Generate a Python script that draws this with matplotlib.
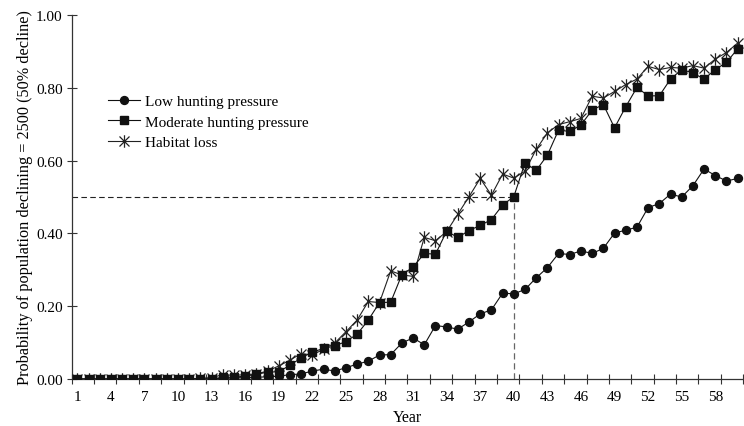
import numpy as np
import matplotlib
matplotlib.use("Agg")
import matplotlib.pyplot as plt
from matplotlib.path import Path

plt.rcParams['font.family'] = ['Liberation Serif', 'DejaVu Serif']

years = list(range(1, 61))

low = [0.0, 0.0, 0.0, 0.0, 0.0, 0.0, 0.0, 0.0, 0.0, 0.0,
       0.0, 0.0, 0.0, 0.002, 0.003, 0.004, 0.005, 0.006, 0.008, 0.012,
       0.014, 0.022, 0.027, 0.022, 0.031, 0.041, 0.049, 0.066, 0.067, 0.099,
       0.113, 0.094, 0.147, 0.143, 0.137, 0.157, 0.179, 0.19, 0.236, 0.234,
       0.246, 0.278, 0.306, 0.345, 0.342, 0.352, 0.345, 0.359, 0.401, 0.409,
       0.417, 0.471, 0.482, 0.508, 0.5, 0.531, 0.577, 0.559, 0.544, 0.551]

moderate = [0.0, 0.0, 0.0, 0.0, 0.0, 0.0, 0.0, 0.0, 0.0, 0.0,
            0.0, 0.0, 0.0, 0.005, 0.005, 0.008, 0.013, 0.019, 0.02, 0.038,
            0.058, 0.074, 0.084, 0.091, 0.103, 0.123, 0.162, 0.21, 0.211, 0.287,
            0.307, 0.345, 0.343, 0.406, 0.389, 0.408, 0.422, 0.438, 0.478, 0.501,
            0.594, 0.573, 0.615, 0.684, 0.68, 0.698, 0.739, 0.754, 0.69, 0.748,
            0.801, 0.778, 0.778, 0.824, 0.85, 0.841, 0.824, 0.85, 0.87, 0.907]

habitat = [0.0, 0.0, 0.0, 0.0, 0.0, 0.0, 0.0, 0.0, 0.0, 0.0,
           0.0, 0.002, 0.004, 0.012, 0.01, 0.012, 0.014, 0.022, 0.036, 0.052,
           0.07, 0.066, 0.082, 0.099, 0.13, 0.162, 0.213, 0.21, 0.297, 0.286,
           0.282, 0.389, 0.38, 0.405, 0.453, 0.501, 0.551, 0.505, 0.563, 0.552,
           0.571, 0.631, 0.676, 0.699, 0.707, 0.716, 0.777, 0.772, 0.79, 0.809,
           0.824, 0.859, 0.85, 0.856, 0.854, 0.861, 0.854, 0.879, 0.897, 0.923]

threshold = 0.5
cross_year = 40

# asterisk: vertical bar plus an X
star = Path([(0, -1), (0, 1), (-0.8, -0.8), (0.8, 0.8), (-0.8, 0.8), (0.8, -0.8)],
            [Path.MOVETO, Path.LINETO, Path.MOVETO, Path.LINETO, Path.MOVETO, Path.LINETO])

fig = plt.figure(figsize=(7.44, 4.27), dpi=100)
ax = fig.add_axes([0.0964, 0.110, 0.9026, 0.8525])

ax.plot(years, habitat, color='#222222', lw=0.8, marker=star, ms=9,
        mew=0.9, label='Habitat loss', zorder=3)
ax.plot(years, moderate, color='#111111', lw=0.8, marker='s', ms=5.7,
        label='Moderate hunting pressure', zorder=4)
ax.plot(years, low, color='#111111', lw=0.8, marker='o', ms=5.7,
        label='Low hunting pressure', zorder=5)

ax.plot([0.5, cross_year], [threshold, threshold], color='#222222', lw=0.8,
        dashes=(5, 3), zorder=2)
ax.plot([cross_year, cross_year], [0, threshold], color='#666666', lw=0.9,
        dashes=(5, 3), zorder=2)

ax.set_xlim(0.5, 60.5)
ax.set_ylim(0, 1.0)
ax.spines['top'].set_visible(False)
ax.spines['right'].set_visible(False)
for s in ('left', 'bottom'):
    ax.spines[s].set_color('#333333')
    ax.spines[s].set_linewidth(0.9)

ax.set_xticks(np.arange(1, 61, 3))
ax.set_xticks(np.arange(0.5, 61, 2), minor=True)
ax.tick_params(axis='x', which='major', length=0, labelsize=11, pad=8)
ax.tick_params(axis='x', which='minor', direction='inout', length=7,
               width=0.8, color='#333333')
ax.set_yticks(np.arange(0, 1.01, 0.2))
ax.set_yticklabels(['%.2f' % v for v in np.arange(0, 1.01, 0.2)])
ax.tick_params(axis='y', direction='inout', length=7, width=0.8,
               color='#333333', labelsize=11, pad=3)

ax.set_xlabel('Year', fontsize=11.5, labelpad=4)
ax.set_ylabel('Probability of population declining = 2500 (50% decline)',
              fontsize=11.7, labelpad=2)

h, l = ax.get_legend_handles_labels()
ax.legend(h[::-1], l[::-1], loc='upper left', bbox_to_anchor=(0.033, 0.82),
          frameon=False, fontsize=11, handlelength=2.1, handletextpad=0.35,
          labelspacing=0.45)

plt.savefig('out.png', dpi=100)
